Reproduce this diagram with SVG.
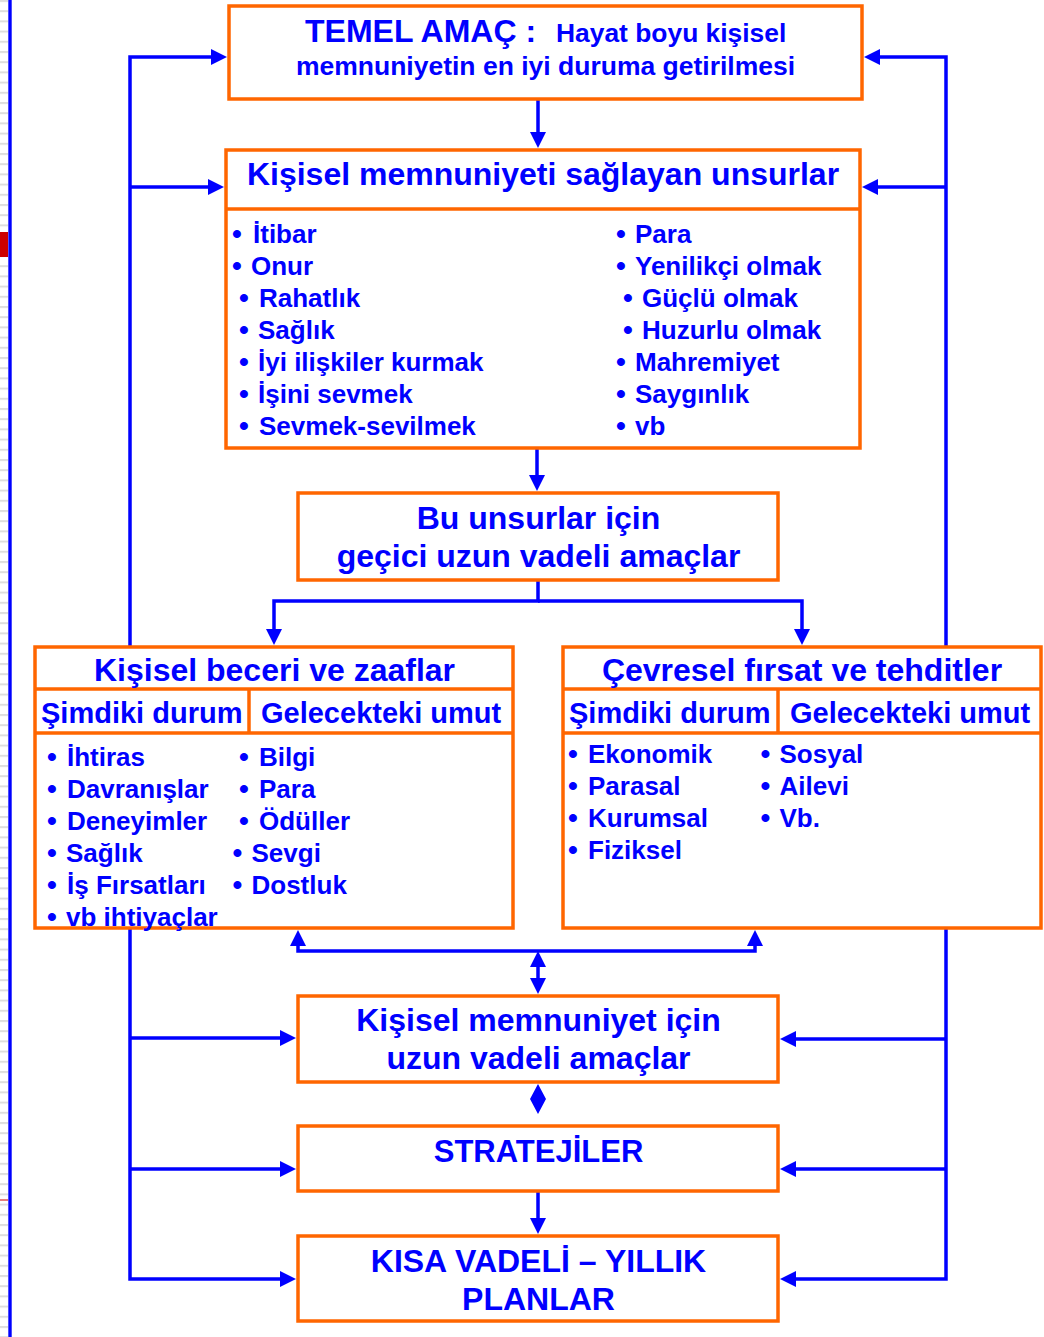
<svg xmlns="http://www.w3.org/2000/svg" width="1044" height="1337" viewBox="0 0 1044 1337">
<style>
.box{fill:#fff;stroke:#FF6600;stroke-width:3.5}
.div{stroke:#FF6600;stroke-width:3.5;fill:none}
.ln{stroke:#0000FF;stroke-width:3.5;fill:none}
text{font-family:"Liberation Sans",Arial,sans-serif;font-weight:bold;fill:#0000FF}
.t32{font-size:32px}
.t29{font-size:29px}
.t26{font-size:26px}
.b{font-size:28px}
.c{text-anchor:middle}
</style>
<defs>
<marker id="ah" markerUnits="userSpaceOnUse" markerWidth="16" markerHeight="16" viewBox="0 0 16 16" refX="0" refY="8" orient="auto-start-reverse">
<path d="M0,0 L16,8 L0,16 Z" fill="#0000FF"/>
</marker>
<pattern id="stripes" patternUnits="userSpaceOnUse" width="8" height="10.2">
<rect x="0" y="0" width="8" height="2" fill="#DDDDDD"/>
</pattern>
</defs>
<rect width="1044" height="1337" fill="#fff"/>
<g id="slide-edge">
<rect x="0" y="0" width="8" height="1337" fill="url(#stripes)"/>
<rect x="0" y="232" width="8" height="25" fill="#CC0000"/>
<rect x="0" y="1199.5" width="8" height="1" fill="#CC0000"/>
<rect x="8.3" y="0" width="3.4" height="1337" fill="#0000FF"/>
</g>
<g id="connectors">
<path class="ln" d="M538,99 V132" marker-end="url(#ah)"/>
<path class="ln" d="M537,448 V475" marker-end="url(#ah)"/>
<path class="ln" d="M538,580 V601 H274 V629" marker-end="url(#ah)"/>
<path class="ln" d="M538,601 H802 V629" marker-end="url(#ah)"/>
<path class="ln" d="M298,946 V951 H755 V946" marker-start="url(#ah)" marker-end="url(#ah)"/>
<path class="ln" d="M538,967 V978" marker-start="url(#ah)" marker-end="url(#ah)"/>
<path d="M538,1084 L546,1099 L538,1114 L530,1099 Z" fill="#0000FF"/>
<path class="ln" d="M538,1191 V1218" marker-end="url(#ah)"/>
<path class="ln" d="M211,57 H130 V1279 H280" marker-start="url(#ah)" marker-end="url(#ah)"/>
<path class="ln" d="M130,187 H208" marker-end="url(#ah)"/>
<path class="ln" d="M130,1038 H280" marker-end="url(#ah)"/>
<path class="ln" d="M130,1169 H280" marker-end="url(#ah)"/>
<path class="ln" d="M880,57 H946 V1279 H796" marker-start="url(#ah)" marker-end="url(#ah)"/>
<path class="ln" d="M946,187 H878" marker-end="url(#ah)"/>
<path class="ln" d="M946,1039 H796" marker-end="url(#ah)"/>
<path class="ln" d="M946,1169 H796" marker-end="url(#ah)"/>
</g>
<g id="temel-amac">
<rect class="box" x="229" y="6" width="633" height="93"/>
<text y="42"><tspan class="t32" x="305">TEMEL AMAÇ :</tspan><tspan x="556" style="font-size:26.4px">Hayat boyu kişisel</tspan></text>
<text class="c" x="545.5" y="75" style="font-size:26.5px">memnuniyetin en iyi duruma getirilmesi</text>
</g>
<g id="unsurlar">
<rect class="box" x="226" y="150" width="634" height="298"/>
<line class="div" x1="226" y1="209" x2="860" y2="209"/>
<text class="t32 c" x="543" y="185">Kişisel memnuniyeti sağlayan unsurlar</text>
<g class="t26">
<text y="243"><tspan class="b" x="232.1">•</tspan><tspan x="253">İtibar</tspan></text>
<text y="275"><tspan class="b" x="232.1">•</tspan><tspan x="251">Onur</tspan></text>
<text y="307"><tspan class="b" x="239.1">•</tspan><tspan x="259">Rahatlık</tspan></text>
<text y="339"><tspan class="b" x="239.1">•</tspan><tspan x="258">Sağlık</tspan></text>
<text y="371"><tspan class="b" x="239.1">•</tspan><tspan x="258">İyi ilişkiler kurmak</tspan></text>
<text y="403"><tspan class="b" x="239.1">•</tspan><tspan x="258">İşini sevmek</tspan></text>
<text y="435"><tspan class="b" x="239.1">•</tspan><tspan x="259">Sevmek-sevilmek</tspan></text>
<text y="243"><tspan class="b" x="616.1">•</tspan><tspan x="635">Para</tspan></text>
<text y="275"><tspan class="b" x="616.1">•</tspan><tspan x="635">Yenilikçi olmak</tspan></text>
<text y="307"><tspan class="b" x="623.1">•</tspan><tspan x="642">Güçlü olmak</tspan></text>
<text y="339"><tspan class="b" x="623.1">•</tspan><tspan x="642">Huzurlu olmak</tspan></text>
<text y="371"><tspan class="b" x="616.1">•</tspan><tspan x="635">Mahremiyet</tspan></text>
<text y="403"><tspan class="b" x="616.1">•</tspan><tspan x="635">Saygınlık</tspan></text>
<text y="435"><tspan class="b" x="616.1">•</tspan><tspan x="635">vb</tspan></text>
</g>
</g>
<g id="gecici-amaclar">
<rect class="box" x="298" y="493" width="480" height="87"/>
<text class="t32 c" x="538.5" y="529">Bu unsurlar için</text>
<text class="t32 c" x="538.5" y="567">geçici uzun vadeli amaçlar</text>
</g>
<g id="beceri-zaaflar">
<rect class="box" x="35" y="647" width="478" height="281"/>
<line class="div" x1="35" y1="689" x2="513" y2="689"/>
<line class="div" x1="35" y1="733" x2="513" y2="733"/>
<line class="div" x1="249" y1="689" x2="249" y2="733"/>
<text class="t32 c" x="274.5" y="681">Kişisel beceri ve zaaflar</text>
<text class="t29" x="41" y="723">Şimdiki durum</text>
<text class="t29" x="261" y="723">Gelecekteki umut</text>
<g class="t26">
<text y="766"><tspan class="b" x="47.1">•</tspan><tspan x="67">İhtiras</tspan></text>
<text y="798"><tspan class="b" x="47.1">•</tspan><tspan x="67">Davranışlar</tspan></text>
<text y="830"><tspan class="b" x="47.1">•</tspan><tspan x="67">Deneyimler</tspan></text>
<text y="862"><tspan class="b" x="47.1">•</tspan><tspan x="66">Sağlık</tspan></text>
<text y="894"><tspan class="b" x="47.1">•</tspan><tspan x="67">İş Fırsatları</tspan></text>
<text y="926"><tspan class="b" x="47.1">•</tspan><tspan x="66">vb ihtiyaçlar</tspan></text>
<text y="766"><tspan class="b" x="239.1">•</tspan><tspan x="259">Bilgi</tspan></text>
<text y="798"><tspan class="b" x="239.1">•</tspan><tspan x="259">Para</tspan></text>
<text y="830"><tspan class="b" x="239.1">•</tspan><tspan x="259">Ödüller</tspan></text>
<text y="862"><tspan class="b" x="232.6">•</tspan><tspan x="251.5">Sevgi</tspan></text>
<text y="894"><tspan class="b" x="232.6">•</tspan><tspan x="251.5">Dostluk</tspan></text>
</g>
</g>
<g id="cevresel">
<rect class="box" x="563" y="647" width="478" height="281"/>
<line class="div" x1="563" y1="689" x2="1041" y2="689"/>
<line class="div" x1="563" y1="733" x2="1041" y2="733"/>
<line class="div" x1="778" y1="689" x2="778" y2="733"/>
<text class="t32 c" x="802" y="681">Çevresel fırsat ve tehditler</text>
<text class="t29" x="569" y="723">Şimdiki durum</text>
<text class="t29" x="790" y="723">Gelecekteki umut</text>
<g class="t26">
<text y="763"><tspan class="b" x="568.1">•</tspan><tspan x="588">Ekonomik</tspan></text>
<text y="795"><tspan class="b" x="568.1">•</tspan><tspan x="588">Parasal</tspan></text>
<text y="827"><tspan class="b" x="568.1">•</tspan><tspan x="588">Kurumsal</tspan></text>
<text y="859"><tspan class="b" x="568.1">•</tspan><tspan x="588">Fiziksel</tspan></text>
<text y="763"><tspan class="b" x="760.6">•</tspan><tspan x="779.5">Sosyal</tspan></text>
<text y="795"><tspan class="b" x="760.6">•</tspan><tspan x="779.5">Ailevi</tspan></text>
<text y="827"><tspan class="b" x="760.6">•</tspan><tspan x="779.5">Vb.</tspan></text>
</g>
</g>
<g id="uzun-vadeli">
<rect class="box" x="298" y="996" width="480" height="86"/>
<text class="t32 c" x="538.5" y="1031">Kişisel memnuniyet için</text>
<text class="t32 c" x="538.5" y="1069">uzun vadeli amaçlar</text>
</g>
<g id="stratejiler">
<rect class="box" x="298" y="1126" width="480" height="65"/>
<text class="c" x="538.5" y="1162" style="font-size:31px">STRATEJİLER</text>
</g>
<g id="planlar">
<rect class="box" x="298" y="1236" width="480" height="85"/>
<text class="t32 c" x="538.5" y="1272">KISA VADELİ – YILLIK</text>
<text class="t32 c" x="538.5" y="1310">PLANLAR</text>
</g>
</svg>
